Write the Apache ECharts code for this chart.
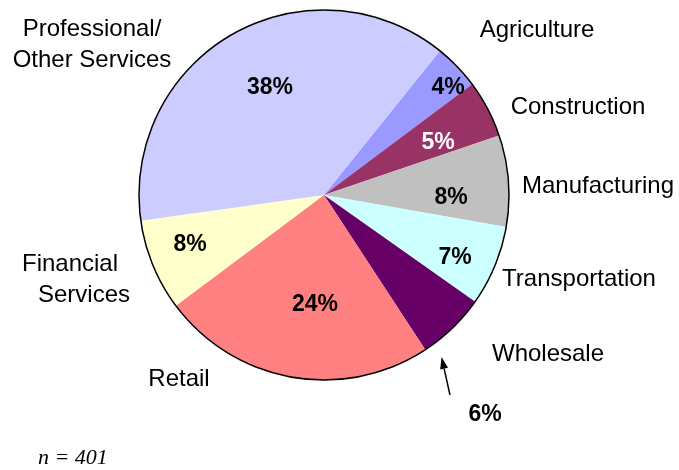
<!DOCTYPE html>
<html>
<head>
<meta charset="utf-8">
<script src="https://cdn.jsdelivr.net/npm/echarts@6/dist/echarts.min.js"></script>
<style>
  html, body { margin: 0; padding: 0; background: #fff; }
  #chart { width: 679px; height: 470px; }
</style>
</head>
<body>
<div id="chart"></div>
<script>
// sectors, clockwise from the top right
var categories = ['Agriculture', 'Construction', 'Manufacturing', 'Transportation',
  'Wholesale', 'Retail', 'Financial\nServices', 'Professional/\nOther Services'];
var shares = [4, 5, 8, 7, 6, 24, 8, 38];
var colors = ['#9999FF', '#993366', '#C0C0C0', '#CCFFFF', '#660066', '#FF8080', '#FFFFCC', '#CCCCFF'];
var sampleNote = 'n = 401';

// where the labels sit (label centres; Financial Services is left-aligned)
var pctPos = [[448, 88], [438, 143], [451, 198], [455, 258], [485, 415], [315, 305], [190, 245], [270, 88]];
var namePos = [[537, 30], [578, 107], [598, 186], [579, 279], [548, 354], [179, 379], [22, 280], [92, 45]];

var center = [324, 195];
var radius = 185;
var font = 'Liberation Sans, Arial, sans-serif';

var chart = echarts.init(document.getElementById('chart'));

var pieData = categories.map(function (c, i) {
  return {
    name: c,
    value: shares[i],
    itemStyle: { color: colors[i] },
    label: { color: i === 1 ? '#fff' : '#000' }
  };
});

chart.setOption({
  backgroundColor: '#fff',
  animation: false,
  series: [
    {
      // slices + percentages
      type: 'pie',
      center: center,
      radius: [0, radius],
      startAngle: 51.2,
      clockwise: true,
      silent: true,
      data: pieData,
      itemStyle: { borderWidth: 0 },
      label: {
        show: true,
        position: 'inside',
        formatter: function (p) { return p.value + '%'; },
        fontFamily: font,
        fontWeight: 'bold',
        fontSize: 23
      },
      labelLine: { show: false },
      labelLayout: function (p) {
        var pos = pctPos[p.dataIndex];
        return { x: pos[0], y: pos[1], align: 'center', verticalAlign: 'middle' };
      }
    },
    {
      // category names
      type: 'pie',
      center: center,
      radius: [0, radius],
      startAngle: 51.2,
      silent: true,
      data: categories.map(function (c, i) { return { name: c, value: shares[i] }; }),
      itemStyle: { color: 'rgba(0,0,0,0)', borderWidth: 0 },
      label: {
        show: true,
        position: 'inside',
        formatter: function (p) {
          if (p.dataIndex === 6) {
            var parts = p.name.split('\n');
            return '{a|' + parts[0] + '}\n{b|' + parts[1] + '}';
          }
          return p.name;
        },
        color: '#000',
        fontFamily: font,
        fontSize: 24,
        lineHeight: 31,
        align: 'center',
        rich: {
          a: { fontFamily: font, fontSize: 24, lineHeight: 31, color: '#000' },
          b: { fontFamily: font, fontSize: 24, lineHeight: 31, color: '#000', padding: [0, 0, 0, 16] }
        }
      },
      labelLine: { show: false },
      labelLayout: function (p) {
        var pos = namePos[p.dataIndex];
        return {
          x: pos[0], y: pos[1],
          align: p.dataIndex === 6 ? 'left' : 'center',
          verticalAlign: 'middle'
        };
      }
    },
    {
      // outer edge of the pie
      type: 'pie',
      center: center,
      radius: [0, radius],
      silent: true,
      data: [{ value: 1, name: '' }],
      itemStyle: { color: 'rgba(0,0,0,0)', borderColor: '#000', borderWidth: 1.5 },
      label: { show: false },
      labelLine: { show: false }
    }
  ],
  graphic: [
    {
      type: 'line',
      shape: { x1: 450, y1: 395, x2: 444.1, y2: 368.7 },
      style: { stroke: '#000', lineWidth: 1.5 }
    },
    {
      type: 'polygon',
      shape: { points: [[441.5, 357], [448.0, 367.8], [440.2, 369.6]] },
      style: { fill: '#000' }
    },
    {
      type: 'text',
      left: 38,
      top: 447,
      style: {
        text: sampleNote,
        font: 'italic 22px "Liberation Serif", "Times New Roman", serif',
        fill: '#000'
      }
    }
  ]
});
</script>
</body>
</html>
